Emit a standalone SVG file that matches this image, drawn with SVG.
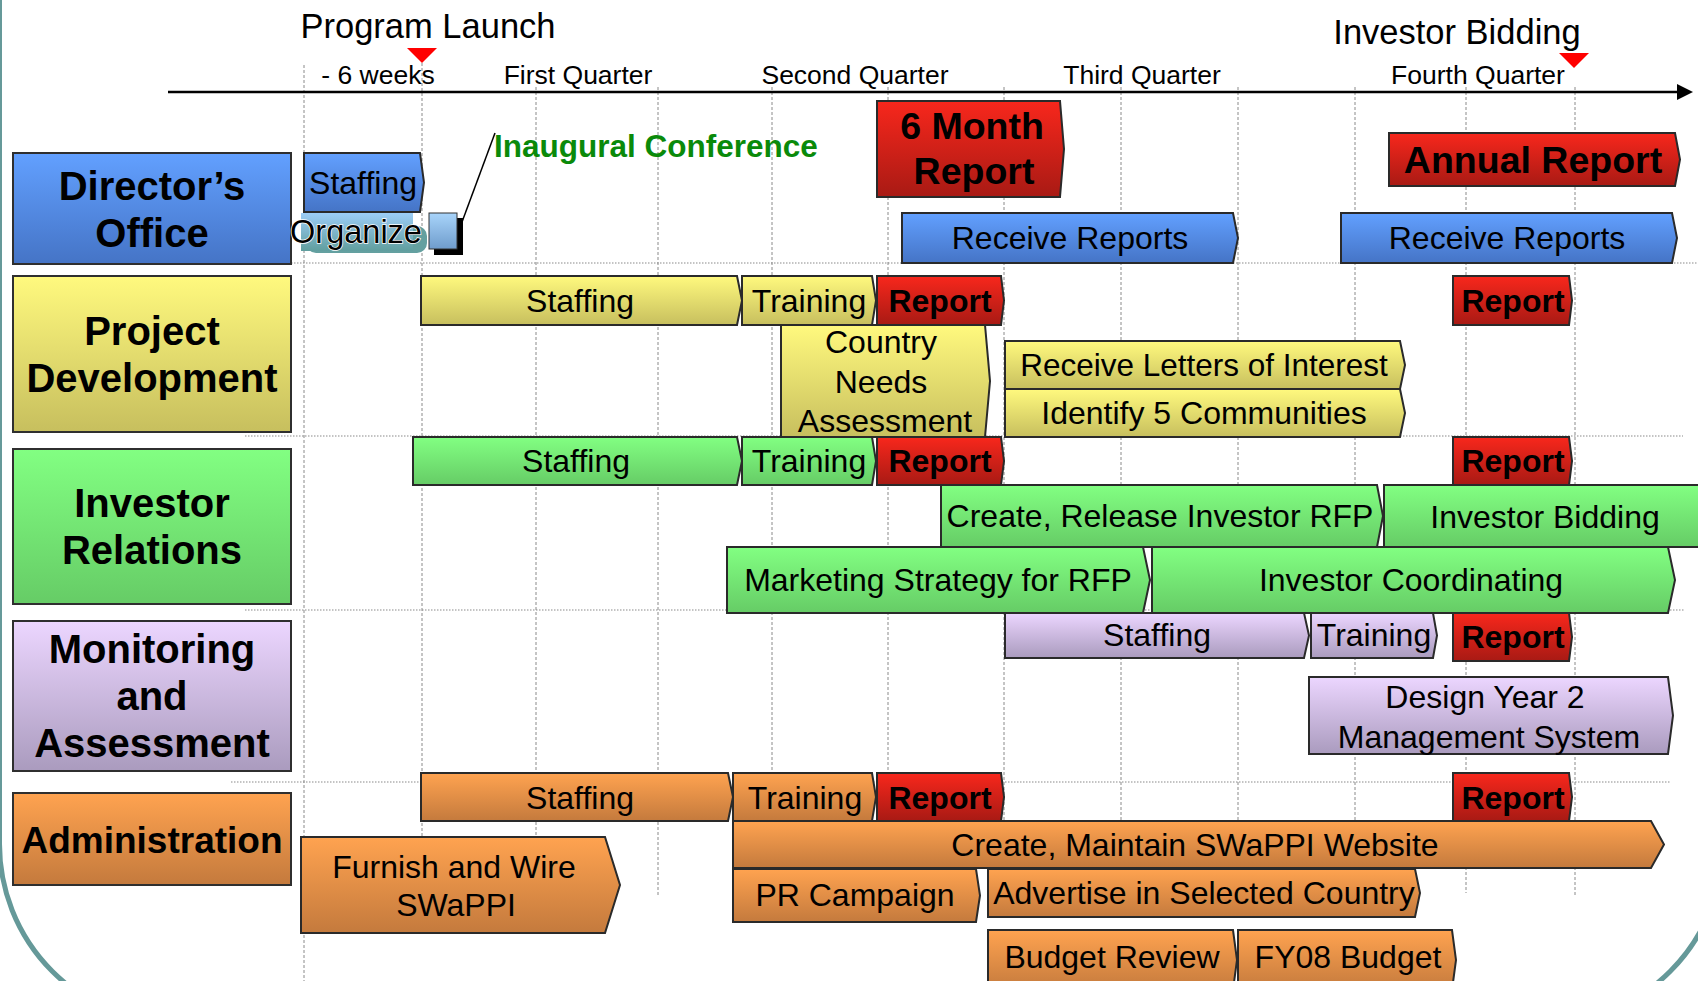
<svg xmlns="http://www.w3.org/2000/svg" width="1698" height="981" viewBox="0 0 1698 981">
<defs>
<linearGradient id="gBlue" x1="0" y1="0" x2="0" y2="1"><stop offset="0" stop-color="#62a0ff"/><stop offset="1" stop-color="#4574c6"/></linearGradient>
<linearGradient id="gYellow" x1="0" y1="0" x2="0" y2="1"><stop offset="0" stop-color="#fff97e"/><stop offset="1" stop-color="#c7bf5e"/></linearGradient>
<linearGradient id="gGreen" x1="0" y1="0" x2="0" y2="1"><stop offset="0" stop-color="#82ff82"/><stop offset="1" stop-color="#66cc66"/></linearGradient>
<linearGradient id="gPurple" x1="0" y1="0" x2="0" y2="1"><stop offset="0" stop-color="#ecd6ff"/><stop offset="1" stop-color="#aa9bbe"/></linearGradient>
<linearGradient id="gOrange" x1="0" y1="0" x2="0" y2="1"><stop offset="0" stop-color="#ffa350"/><stop offset="1" stop-color="#c47a3d"/></linearGradient>
<linearGradient id="gRed" x1="0" y1="0" x2="0" y2="1"><stop offset="0" stop-color="#f8271c"/><stop offset="1" stop-color="#a81a14"/></linearGradient>
<linearGradient id="gOrg" x1="0" y1="0" x2="0" y2="1"><stop offset="0" stop-color="#9ccdf7"/><stop offset="1" stop-color="#609e9e"/></linearGradient>
<linearGradient id="gMark" x1="0" y1="0" x2="0" y2="1"><stop offset="0" stop-color="#a8d4fa"/><stop offset="1" stop-color="#6f9ccc"/></linearGradient>
<style>
.bar{stroke:#2a2a2a;stroke-width:2}
.cat{stroke:#2f2f2f;stroke-width:2}
.t{font-family:"Liberation Sans",Arial,sans-serif;font-size:32px;text-anchor:middle;fill:#000}
.b{font-weight:bold}
.c{font-size:40px;font-weight:bold}
.ax{font-size:26.5px}
.ti{font-size:34.5px}
.grid{stroke:#8a8a8a;stroke-width:1;stroke-dasharray:3 2;fill:none}
.sep{stroke:#8a8a8a;stroke-width:1.2;stroke-dasharray:1.5 1.5;fill:none}
</style>
</defs>
<rect width="1698" height="981" fill="#ffffff"/>
<g id="frame">
<path d="M-0.5 -10 L-0.5 844 A180 180 0 0 0 179.5 1024 L1543 1024 A180 180 0 0 0 1723 844 L1723 -10" fill="none" stroke="#659999" stroke-width="5"/>
</g>
<g id="grid">
<line class="grid" x1="304" y1="65" x2="304" y2="981"/>
<line class="grid" x1="422" y1="63" x2="422" y2="895"/>
<line class="grid" x1="536" y1="87" x2="536" y2="895"/>
<line class="grid" x1="658" y1="87" x2="658" y2="895"/>
<line class="grid" x1="772" y1="87" x2="772" y2="895"/>
<line class="grid" x1="888" y1="87" x2="888" y2="895"/>
<line class="grid" x1="1004" y1="87" x2="1004" y2="895"/>
<line class="grid" x1="1121" y1="87" x2="1121" y2="895"/>
<line class="grid" x1="1238" y1="87" x2="1238" y2="895"/>
<line class="grid" x1="1355" y1="87" x2="1355" y2="895"/>
<line class="grid" x1="1466" y1="87" x2="1466" y2="893"/>
<line class="grid" x1="1575" y1="87" x2="1575" y2="895"/>
<line class="sep" x1="291" y1="263" x2="1698" y2="263"/>
<line class="sep" x1="245" y1="436" x2="1683" y2="436"/>
<line class="sep" x1="245" y1="610" x2="1685" y2="610"/>
<line class="sep" x1="231" y1="782" x2="1671" y2="782"/>
</g>
<g id="timeline">
<line x1="168" y1="92" x2="1680" y2="92" stroke="#000" stroke-width="2.5"/>
<polygon points="1677,84 1693,92 1677,100" fill="#000"/>
<text class="t ax" x="378" y="84">- 6 weeks</text>
<text class="t ax" x="578" y="84">First Quarter</text>
<text class="t ax" x="855" y="84">Second Quarter</text>
<text class="t ax" x="1142" y="84">Third Quarter</text>
<text class="t ax" x="1478" y="84">Fourth Quarter</text>
</g>
<g id="milestone-launch">
<text class="t ti" x="428" y="38">Program Launch</text>
<polygon points="407,48 437,48 422,63" fill="#ff0000"/>
</g>
<g id="milestone-bidding">
<text class="t ti" x="1457" y="44">Investor Bidding</text>
<polygon points="1559,53 1589,53 1574,68" fill="#ff0000"/>
</g>
<g id="connectors">
<line x1="462" y1="222" x2="495" y2="133" stroke="#000" stroke-width="1.5"/>
</g>
<g id="cat-director">
<rect class="cat" x="13" y="153" width="278" height="111" fill="url(#gBlue)"/>
<text class="t c" x="152" y="200">Director’s</text>
<text class="t c" x="152" y="247">Office</text>
</g>
<g id="cat-project">
<rect class="cat" x="13" y="276" width="278" height="156" fill="url(#gYellow)"/>
<text class="t c" x="152" y="345">Project</text>
<text class="t c" x="152" y="392">Development</text>
</g>
<g id="cat-investor">
<rect class="cat" x="13" y="449" width="278" height="155" fill="url(#gGreen)"/>
<text class="t c" x="152" y="517">Investor</text>
<text class="t c" x="152" y="564">Relations</text>
</g>
<g id="cat-monitoring">
<rect class="cat" x="13" y="621" width="278" height="150" fill="url(#gPurple)"/>
<text class="t c" x="152" y="663">Monitoring</text>
<text class="t c" x="152" y="710">and</text>
<text class="t c" x="152" y="757">Assessment</text>
</g>
<g id="cat-admin">
<rect class="cat" x="13" y="793" width="278" height="92" fill="url(#gOrange)"/>
<text class="t c" x="152" y="853" style="font-size:37px">Administration</text>
</g>
<g id="do-staffing"><path class="bar" d="M304 153 H420 L424 182.5 L420 212 H304 Z" fill="url(#gBlue)"/><text class="t" x="363" y="194">Staffing</text></g>
<g id="do-organize">
<rect x="306" y="226" width="121" height="27" rx="10" fill="#64a0a0"/>
<rect x="301" y="213" width="112" height="38" fill="url(#gOrg)"/>
<text class="t" x="356" y="243" style="font-size:32.5px" stroke="#ffffff" stroke-width="1.5" paint-order="stroke">Organize</text>
</g>
<g id="do-inaugural">
<rect x="434" y="218" width="29" height="37" fill="#000"/>
<rect x="429" y="213" width="28" height="36" fill="url(#gMark)" stroke="#333" stroke-width="1"/>
<text class="t b" x="494" y="157" style="font-size:31.5px;text-anchor:start;fill:#0a8a0a">Inaugural Conference</text>
</g>
<g id="do-6month"><path class="bar" d="M877 101 H1060 L1064 149 L1060 197 H877 Z" fill="url(#gRed)"/><text class="t b" x="972" y="139" style="font-size:37.5px">6 Month</text><text class="t b" x="974" y="184" style="font-size:37.5px">Report</text></g>
<g id="do-annual"><path class="bar" d="M1389 133 H1675 L1680 159.5 L1675 186 H1389 Z" fill="url(#gRed)"/><text class="t b" x="1533" y="173" style="font-size:37.5px">Annual Report</text></g>
<g id="do-receive1"><path class="bar" d="M902 213 H1233 L1238 238 L1233 263 H902 Z" fill="url(#gBlue)"/><text class="t" x="1070" y="249">Receive Reports</text></g>
<g id="do-receive2"><path class="bar" d="M1341 213 H1672 L1677 238 L1672 263 H1341 Z" fill="url(#gBlue)"/><text class="t" x="1507" y="249">Receive Reports</text></g>
<g id="pd-staffing"><path class="bar" d="M421 276 H737 L742 300.5 L737 325 H421 Z" fill="url(#gYellow)"/><text class="t" x="580" y="312">Staffing</text></g>
<g id="pd-training"><path class="bar" d="M742 276 H872 L876 300.5 L872 325 H742 Z" fill="url(#gYellow)"/><text class="t" x="809" y="312">Training</text></g>
<g id="pd-report1"><path class="bar" d="M877 276 H1001 L1004 300.5 L1001 325 H877 Z" fill="url(#gRed)"/><text class="t b" x="940" y="312">Report</text></g>
<g id="pd-report2"><path class="bar" d="M1453 276 H1569 L1572 300.5 L1569 325 H1453 Z" fill="url(#gRed)"/><text class="t b" x="1513" y="312">Report</text></g>
<g id="pd-country"><path class="bar" d="M781 325 H985 L990 381 L985 437 H781 Z" fill="url(#gYellow)"/><text class="t" x="881" y="353">Country</text><text class="t" x="881" y="393">Needs</text><text class="t" x="885" y="432">Assessment</text></g>
<g id="pd-letters"><path class="bar" d="M1005 341 H1400 L1405 365 L1400 389 H1005 Z" fill="url(#gYellow)"/><text class="t" x="1204" y="376" style="font-size:31.5px">Receive Letters of Interest</text></g>
<g id="pd-communities"><path class="bar" d="M1005 389 H1400 L1405 413 L1400 437 H1005 Z" fill="url(#gYellow)"/><text class="t" x="1204" y="424">Identify 5 Communities</text></g>
<g id="ir-staffing"><path class="bar" d="M413 437 H737 L742 461 L737 485 H413 Z" fill="url(#gGreen)"/><text class="t" x="576" y="472">Staffing</text></g>
<g id="ir-training"><path class="bar" d="M742 437 H872 L876 461 L872 485 H742 Z" fill="url(#gGreen)"/><text class="t" x="809" y="472">Training</text></g>
<g id="ir-report1"><path class="bar" d="M877 437 H1001 L1004 461 L1001 485 H877 Z" fill="url(#gRed)"/><text class="t b" x="940" y="472">Report</text></g>
<g id="ir-report2"><path class="bar" d="M1453 437 H1569 L1572 461 L1569 485 H1453 Z" fill="url(#gRed)"/><text class="t b" x="1513" y="472">Report</text></g>
<g id="ir-rfp"><path class="bar" d="M941 485 H1377 L1383 516 L1377 547 H941 Z" fill="url(#gGreen)"/><text class="t" x="1160" y="527">Create, Release Investor RFP</text></g>
<g id="ir-bidding"><path class="bar" d="M1384 485 H1702 V547 H1384 Z" fill="url(#gGreen)"/><text class="t" x="1545" y="528">Investor Bidding</text></g>
<g id="ir-marketing"><path class="bar" d="M727 547 H1143 L1150 580 L1143 613 H727 Z" fill="url(#gGreen)"/><text class="t" x="938" y="591">Marketing Strategy for RFP</text></g>
<g id="ir-coordinating"><path class="bar" d="M1152 547 H1668 L1675 580 L1668 613 H1152 Z" fill="url(#gGreen)"/><text class="t" x="1411" y="591">Investor Coordinating</text></g>
<g id="ma-staffing"><path class="bar" d="M1005 613 H1304 L1309 635.5 L1304 658 H1005 Z" fill="url(#gPurple)"/><text class="t" x="1157" y="646">Staffing</text></g>
<g id="ma-training"><path class="bar" d="M1311 613 H1433 L1437 635.5 L1433 658 H1311 Z" fill="url(#gPurple)"/><text class="t" x="1374" y="646">Training</text></g>
<g id="ma-report"><path class="bar" d="M1453 613 H1569 L1572 637 L1569 661 H1453 Z" fill="url(#gRed)"/><text class="t b" x="1513" y="648">Report</text></g>
<g id="ma-design"><path class="bar" d="M1309 677 H1668 L1673 715.5 L1668 754 H1309 Z" fill="url(#gPurple)"/><text class="t" x="1485" y="708">Design Year 2</text><text class="t" x="1489" y="748">Management System</text></g>
<g id="ad-staffing"><path class="bar" d="M421 773 H728 L733 797 L728 821 H421 Z" fill="url(#gOrange)"/><text class="t" x="580" y="809">Staffing</text></g>
<g id="ad-training"><path class="bar" d="M733 773 H872 L876 797 L872 821 H733 Z" fill="url(#gOrange)"/><text class="t" x="805" y="809">Training</text></g>
<g id="ad-report1"><path class="bar" d="M877 773 H1001 L1004 797 L1001 821 H877 Z" fill="url(#gRed)"/><text class="t b" x="940" y="809">Report</text></g>
<g id="ad-report2"><path class="bar" d="M1453 773 H1569 L1572 797 L1569 821 H1453 Z" fill="url(#gRed)"/><text class="t b" x="1513" y="809">Report</text></g>
<g id="ad-website"><path class="bar" d="M733 821 H1651 L1664 844.5 L1651 868 H733 Z" fill="url(#gOrange)"/><text class="t" x="1195" y="856">Create, Maintain SWaPPI Website</text></g>
<g id="ad-pr"><path class="bar" d="M733 869 H976 L980 895.5 L976 922 H733 Z" fill="url(#gOrange)"/><text class="t" x="855" y="906">PR Campaign</text></g>
<g id="ad-advertise"><path class="bar" d="M988 869 H1415 L1420 893 L1415 917 H988 Z" fill="url(#gOrange)"/><text class="t" x="1204" y="904">Advertise in Selected Country</text></g>
<g id="ad-budget-review"><path class="bar" d="M988 930 H1233 L1237 960 L1233 990 H988 Z" fill="url(#gOrange)"/><text class="t" x="1112" y="968">Budget Review</text></g>
<g id="ad-fy08"><path class="bar" d="M1238 930 H1452 L1456 960 L1452 990 H1238 Z" fill="url(#gOrange)"/><text class="t" x="1348" y="968">FY08 Budget</text></g>
<g id="ad-furnish"><path class="bar" d="M301 837 H605 L620 885 L605 933 H301 Z" fill="url(#gOrange)"/><text class="t" x="454" y="878">Furnish and Wire</text><text class="t" x="456" y="916">SWaPPI</text></g>
</svg>
